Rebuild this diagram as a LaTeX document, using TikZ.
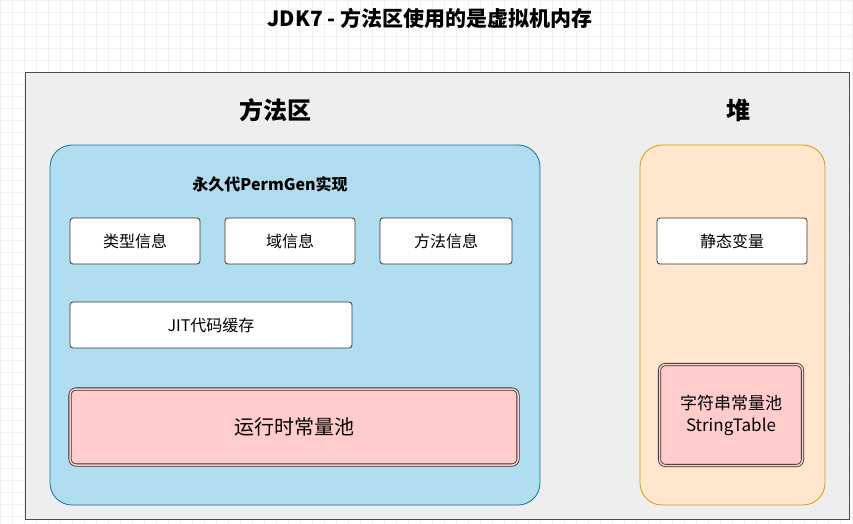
\documentclass[tikz,border=0pt]{standalone}
\usepackage{fontspec}
\setmainfont{Noto Sans CJK SC}
\usetikzlibrary{positioning}
\definecolor{outerfill}{HTML}{EEEEEE}
\definecolor{bluefill}{HTML}{B1DDF0}
\definecolor{blueline}{HTML}{10739E}
\definecolor{orangefill}{HTML}{FFE6CC}
\definecolor{orangeline}{HTML}{D79B00}
\definecolor{pinkfill}{HTML}{FFCCCC}

\begin{document}
\begin{tikzpicture}[x=1pt,y=-1pt,
  region/.style={draw=black!70,thick,fill=outerfill},
  zone/.style={rounded corners=22pt,thick},
  item/.style={draw=black!80,fill=white,rounded corners=3pt,thick,font=\fontsize{16}{19}\selectfont},
  pool/.style={draw=black!80,double=pinkfill,double distance=1.5pt,fill=pinkfill,rounded corners=6pt,thick},
  heading/.style={font=\bfseries\fontsize{24}{28}\selectfont}]
  \useasboundingbox (0,0) rectangle (853,524);
  \fill[white] (0,0) rectangle (853,524);
  \draw[black!6,step=12pt] (0,0) grid (853,524);
  \node[font=\bfseries\fontsize{21}{24}\selectfont] (title) at (430,18) {JDK7 - 方法区使用的是虚拟机内存};
  % outer frame
  \draw[region] (25,72) rectangle (849,519);
  \node[heading] (methodtitle) at (275,110) {方法区};
  \node[heading] (heaptitle) at (738,110) {堆};
  % method area
  \draw[zone,draw=blueline,fill=bluefill] (50,145) rectangle (540,505);
  \node[font=\bfseries\fontsize{16}{19}\selectfont] (perm) at (270,184) {永久代PermGen实现};
  \node[item,minimum width=130pt,minimum height=46pt] (type) at (135,241) {类型信息};
  \node[item,minimum width=130pt,minimum height=46pt] (field) at (290,241) {域信息};
  \node[item,minimum width=132pt,minimum height=46pt] (method) at (446,241) {方法信息};
  \node[item,minimum width=282pt,minimum height=46pt] (jit) at (211,325) {JIT代码缓存};
  \node[pool,minimum width=448pt,minimum height=76pt,font=\fontsize{20}{24}\selectfont] (rtpool) at (294,427) {运行时常量池};
  % heap
  \draw[zone,draw=orangeline,fill=orangefill] (640,145) rectangle (825,505);
  \node[item,minimum width=150pt,minimum height=46pt] (static) at (732,241) {静态变量};
  \node[pool,minimum width=143pt,minimum height=101pt,align=center,font=\fontsize{17}{22}\selectfont] (strpool) at (731,415) {字符串常量池\\StringTable};
\end{tikzpicture}
\end{document}
